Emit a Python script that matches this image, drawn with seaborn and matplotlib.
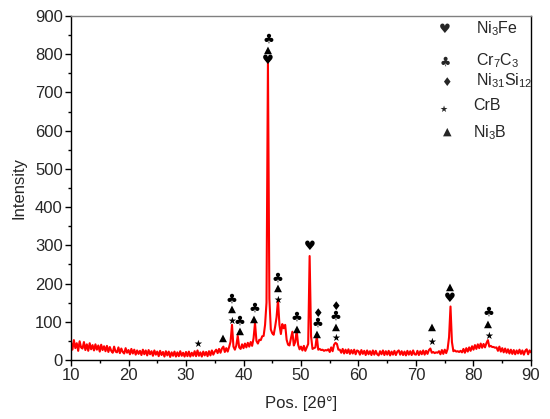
import numpy as np
import pandas as pd
import matplotlib
matplotlib.use("Agg")
import matplotlib.pyplot as plt
import seaborn as sns
from matplotlib.ticker import MultipleLocator

# ---------------- data ----------------
# XRD pattern sampled every 0.25 deg from 10 to 90 (2theta)
theta_start, theta_end, theta_step = 10.0, 90.0, 0.25
intensity = [
    46, 27, 52, 31, 44, 24, 49, 33,
    30, 47, 26, 41, 24, 44, 28, 39,
    25, 41, 27, 38, 22, 40, 26, 36,
    23, 37, 21, 34, 24, 19, 35, 22,
    20, 33, 18, 30, 21, 17, 31, 19,
    26, 15, 29, 17, 27, 14, 25, 16,
    24, 13, 27, 15, 25, 12, 26, 15,
    23, 11, 25, 14, 22, 10, 24, 13,
    21, 9, 23, 12, 22, 8, 20, 11,
    22, 9, 20, 10, 23, 11, 19, 9,
    21, 10, 22, 9, 19, 11, 23, 10,
    25, 11, 20, 9, 22, 12, 21, 10,
    23, 12, 25, 14, 22, 27, 18, 29,
    19, 30, 35, 21, 31, 22, 34, 48,
    92, 35, 27, 38, 63, 33, 29, 41,
    31, 43, 33, 45, 35, 47, 37, 57,
    97, 50, 43, 53, 52, 62, 63, 92,
    150, 780, 160, 80, 70, 66, 87, 112,
    157, 92, 68, 94, 83, 92, 53, 40,
    38, 57, 74, 38, 47, 77, 40, 28,
    35, 25, 37, 24, 33, 42, 272, 62,
    29, 31, 33, 62, 27, 29, 26, 27,
    24, 26, 25, 28, 21, 33, 23, 40,
    45, 42, 27, 27, 19, 29, 17, 27,
    18, 28, 16, 26, 17, 27, 15, 25,
    23, 14, 26, 16, 24, 13, 25, 15,
    23, 13, 25, 14, 24, 15, 12, 23,
    15, 25, 13, 23, 14, 24, 12, 22,
    14, 24, 13, 22, 25, 14, 23, 13,
    22, 12, 24, 14, 23, 13, 25, 15,
    14, 24, 13, 23, 15, 25, 14, 24,
    16, 26, 30, 19, 21, 18, 20, 19,
    23, 15, 26, 16, 27, 18, 29, 60,
    140, 47, 23, 25, 22, 23, 21, 24,
    20, 29, 19, 31, 22, 33, 24, 36,
    27, 39, 29, 41, 31, 43, 32, 42,
    33, 44, 52, 35, 37, 34, 34, 32,
    33, 24, 35, 22, 31, 20, 30, 19,
    28, 17, 27, 16, 26, 15, 25, 17,
    27, 16, 25, 14, 24, 28, 15, 25,
    20,
]
two_theta = np.arange(theta_start, theta_end + theta_step / 2, theta_step)

# phase symbols
HEART, CLUB, DIAMOND, STAR, TRI = "\u2665", "\u2663", "\u2666", "\u2605", "\u25B2"
phase_symbols = [HEART, CLUB, DIAMOND, STAR, TRI]
phase_names = [r"Ni$_3$Fe", r"Cr$_7$C$_3$", r"Ni$_{31}$Si$_{12}$", "CrB", r"Ni$_3$B"]

# peak markers: 2theta, intensity position, symbol
mark_x = [32.1, 36.5,
          37.95, 37.95, 37.95,
          39.3, 39.3,
          41.9, 41.9,
          44.3, 44.3, 44.3,
          45.95, 45.95, 45.95,
          49.25, 49.25,
          51.57,
          52.83, 52.83, 52.83,
          56.03, 56.03, 56.03, 56.03,
          72.7, 72.7,
          75.9, 75.9,
          82.6, 82.6, 82.6]
mark_y = [42, 59,
          103, 134, 159,
          76, 100,
          109, 135,
          783, 811, 840,
          157, 188, 214,
          83, 112,
          298,
          68, 96, 122,
          58, 86, 115, 141,
          48, 87,
          161, 192,
          63, 96, 126]
mark_sym = [STAR, TRI,
            STAR, TRI, CLUB,
            TRI, CLUB,
            TRI, CLUB,
            HEART, TRI, CLUB,
            STAR, TRI, CLUB,
            TRI, CLUB,
            HEART,
            TRI, CLUB, DIAMOND,
            STAR, TRI, CLUB, DIAMOND,
            STAR, TRI,
            HEART, TRI,
            STAR, TRI, CLUB]

df = pd.DataFrame({"two_theta": two_theta, "intensity": intensity})

# ---------------- style ----------------
sns.set_style("ticks")
plt.rcParams["font.family"] = ["Liberation Sans", "DejaVu Sans"]
plt.rcParams["mathtext.fontset"] = "custom"
plt.rcParams["mathtext.rm"] = "Liberation Sans"
plt.rcParams["mathtext.default"] = "regular"

sym_size = {HEART: 9.5, CLUB: 9.5, DIAMOND: 8.5, STAR: 7, TRI: 7.5}
leg_size = {HEART: 9.5, CLUB: 9, DIAMOND: 8.5, STAR: 6.5, TRI: 8}

fig = plt.figure(figsize=(5.5, 4.19), dpi=100)
ax = fig.add_axes([71 / 550, 59 / 419, 460 / 550, 344 / 419])

sns.lineplot(data=df, x="two_theta", y="intensity", ax=ax, color="#ff0000",
             linewidth=1.5)

for xm, ym, s in zip(mark_x, mark_y, mark_sym):
    ax.text(xm, ym, s, ha="center", va="center", fontsize=sym_size[s],
            color="black", family=["DejaVu Sans"])

# legend made of symbols and names
leg_sym_x = [0.813, 0.813, 0.815, 0.809, 0.817]
leg_sym_y = [0.962, 0.866, 0.808, 0.727, 0.663]
leg_txt_x = [0.880, 0.880, 0.880, 0.874, 0.874]
leg_txt_y = [0.962, 0.870, 0.811, 0.741, 0.660]
for s, name, sx, sy, tx, ty in zip(phase_symbols, phase_names, leg_sym_x, leg_sym_y,
                                   leg_txt_x, leg_txt_y):
    ax.text(sx, sy, s, transform=ax.transAxes, ha="center", va="center",
            fontsize=leg_size[s], family=["DejaVu Sans"])
    ax.text(tx, ty, name, transform=ax.transAxes, ha="left", va="center",
            fontsize=11.5)

ax.set_xlim(10, 90)
ax.set_ylim(0, 900)
ax.xaxis.set_major_locator(MultipleLocator(10))
ax.xaxis.set_minor_locator(MultipleLocator(5))
ax.yaxis.set_major_locator(MultipleLocator(100))
ax.yaxis.set_minor_locator(MultipleLocator(50))
ax.tick_params(axis="both", which="major", direction="out", length=4, width=1,
               labelsize=12, color="black", pad=2)
ax.tick_params(axis="both", which="minor", direction="out", length=2.5, width=1,
               color="black")
ax.set_xlabel("Pos. [2\u03b8\u00b0]", fontsize=12, labelpad=9)
ax.set_ylabel("Intensity", fontsize=12, labelpad=6)

for side in ["left", "bottom", "right"]:
    ax.spines[side].set_color("black")
    ax.spines[side].set_linewidth(1.0)
ax.spines["top"].set_color("#808080")
ax.spines["top"].set_linewidth(1.0)
ax.spines["right"].set_visible(True)
ax.spines["top"].set_visible(True)

fig.savefig("out.png", dpi=100)
